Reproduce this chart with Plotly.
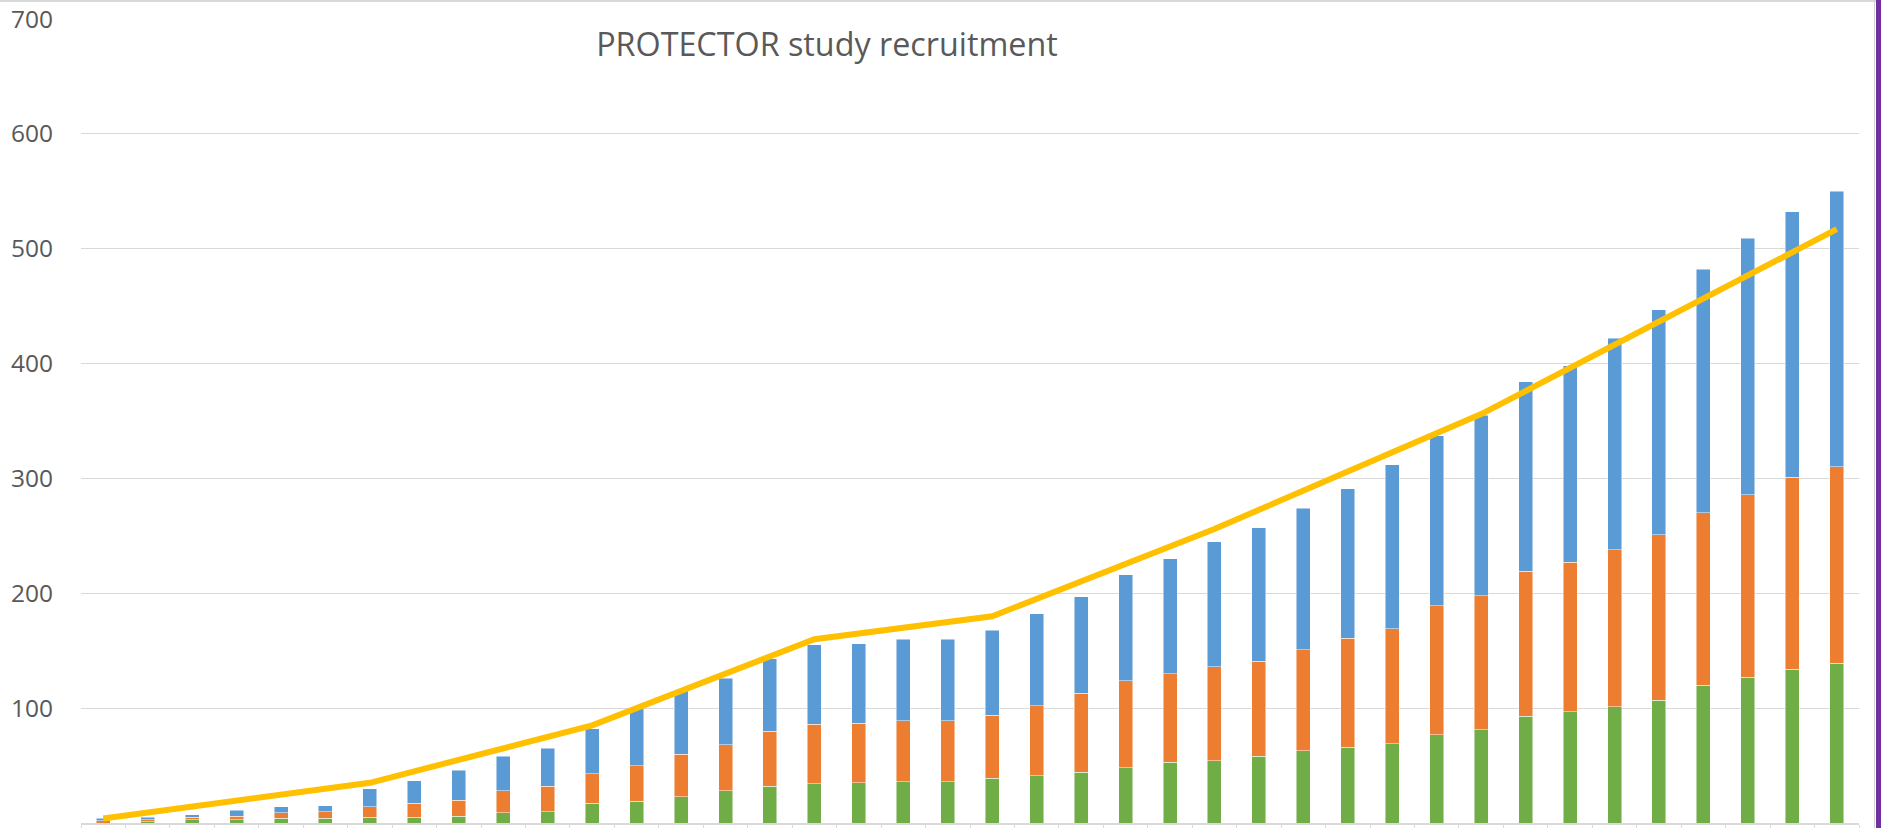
import plotly.graph_objects as go

# ---- data ----
periods = list(range(1, 41))

green_vals = [0, 1, 3, 3, 4, 4, 5, 5, 6, 9,
              10, 17, 19, 23, 28, 32, 34, 35, 36, 36,
              39, 41, 44, 48, 53, 54, 58, 63, 66, 69,
              77, 81, 93, 97, 101, 107, 120, 127, 134, 139]
orange_vals = [2, 2, 2, 3, 5, 6, 9, 12, 14, 19,
               22, 26, 31, 37, 40, 48, 52, 52, 53, 53,
               55, 61, 69, 76, 77, 82, 83, 88, 95, 100,
               112, 117, 126, 130, 137, 144, 150, 159, 167, 171]
blue_vals = [2, 2, 2, 5, 5, 5, 16, 20, 26, 30,
             33, 39, 50, 55, 58, 63, 69, 69, 71, 71,
             74, 80, 84, 92, 100, 109, 116, 123, 130, 143,
             148, 157, 165, 171, 184, 196, 212, 223, 231, 240]
# target line: known points only (gaps connected)
target_vals = [4, None, None, None, None, None, 35, None, None, None,
               None, 85, None, None, None, None, 160, None, None, None,
               180, None, None, None, None, 256, None, None, None, None,
               None, 356, None, None, None, None, None, None, None, 517]

y_ticks = [0, 100, 200, 300, 400, 500, 600, 700]
title_text = "PROTECTOR study recruitment"

W, H = 1881, 828
ML, MR, MT, MB = 81, 22, 19, 5
PW, PH = W - ML - MR, H - MT - MB

def px_x(p):
    return (p - ML) / PW

def px_y(p):
    return (H - MB - p) / PH

fig = go.Figure()
for vals, col in [(green_vals, "#70AD47"), (orange_vals, "#ED7D31"), (blue_vals, "#5B9BD5")]:
    fig.add_trace(go.Bar(
        x=periods, y=vals, marker=dict(color=col, line=dict(color="rgba(255,255,255,0.6)", width=0.8)),
        showlegend=False, hoverinfo="y"))

fig.add_trace(go.Scatter(
    x=periods, y=target_vals, mode="lines", connectgaps=True,
    line=dict(color="#FFC000", width=6), showlegend=False))

fig.update_layout(
    width=W, height=H,
    margin=dict(l=ML, r=MR, t=MT, b=MB, pad=0, autoexpand=False),
    paper_bgcolor="white", plot_bgcolor="white",
    barmode="stack", bargap=0.685,
    font=dict(family="Open Sans", color="#595959"),
    title=dict(text=title_text, font=dict(family="Open Sans", size=32.3, color="#595959"),
               x=827 / W, xref="container", xanchor="center",
               y=1 - 44.5 / H, yref="container", yanchor="middle", automargin=False),
    xaxis=dict(type="category", range=[-0.5, 39.5], showticklabels=False, automargin=False,
               showgrid=False, showline=True, linecolor="#D9D9D9", linewidth=2,
               ticks="outside", ticklen=6, tickwidth=1.3, tickcolor="#D9D9D9",
               tickson="boundaries", zeroline=False),
    yaxis=dict(range=[0, 700], tickvals=y_ticks, showgrid=True, gridcolor="#D9D9D9",
               gridwidth=1.3, zeroline=False, showline=False, automargin=False,
               tickfont=dict(family="Open Sans", size=24.5, color="#595959"),
               ticklabelstandoff=27),
    shapes=[
        dict(type="line", xref="paper", yref="paper", x0=px_x(0), x1=px_x(W), y0=px_y(1), y1=px_y(1),
             line=dict(color="#D9D9D9", width=2)),
        dict(type="line", xref="paper", yref="paper", x0=px_x(1874.5), x1=px_x(1874.5), y0=px_y(0), y1=px_y(H),
             line=dict(color="#D0D0D0", width=1)),
        dict(type="line", xref="paper", yref="paper", x0=px_x(1878.5), x1=px_x(1878.5), y0=px_y(0), y1=px_y(H),
             line=dict(color="#7030A0", width=5)),
    ],
)

fig.write_html("out.html", config={"displayModeBar": False})

# remove the browser's default page margin so the figure sits at (0, 0)
with open("out.html", "r", encoding="utf-8") as f:
    html = f.read()
html = html.replace("<head>", "<head><style>html,body{margin:0;padding:0;overflow:hidden;}</style>", 1)
with open("out.html", "w", encoding="utf-8") as f:
    f.write(html)
